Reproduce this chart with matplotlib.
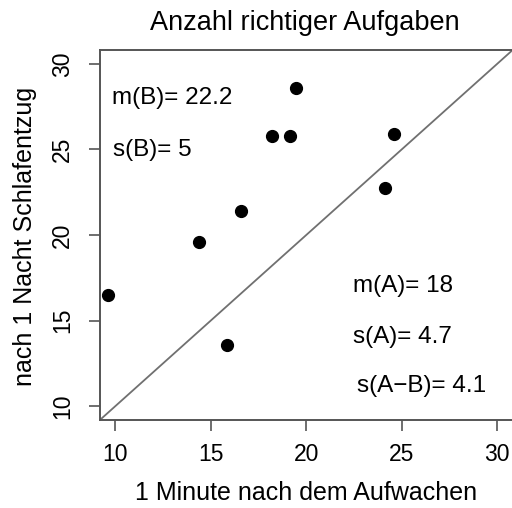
import matplotlib
matplotlib.use("Agg")
import matplotlib.pyplot as plt

plt.rcParams['font.family'] = ['Liberation Sans', 'DejaVu Sans']

# Werte
aufwachen = [9.62, 14.38, 15.83, 16.56, 18.22, 19.13, 19.46, 24.12, 24.61]
schlafentzug = [16.49, 19.61, 13.54, 21.42, 25.79, 25.79, 28.61, 22.75, 25.92]
ticks = [10, 15, 20, 25, 30]
stats_links = ["m(B)= 22.2", "s(B)= 5"]
stats_rechts = ["m(A)= 18", "s(A)= 4.7", "s(A\u2212B)= 4.1"]

W, H = 512, 508
fig = plt.figure(figsize=(W / 100, H / 100), dpi=100)
ax = fig.add_axes([100.2 / W, 88.3 / H, 412.1 / W, 369.4 / H])

ax.plot(aufwachen, schlafentzug, 'o', color='black', markersize=8.5, zorder=3)
ax.axline((10, 10), slope=1, color='#707070', linewidth=1.3)

ax.set_xlim(9.2, 30.8)
ax.set_ylim(9.2, 30.8)
ax.set_xticks(ticks)
ax.set_yticks(ticks)
ax.tick_params(direction='out', length=8, width=1.2, color='#555555',
               labelsize=16.5, pad=9)
ax.tick_params(axis='y', pad=11)
for lab in ax.get_yticklabels():
    lab.set_rotation(90)
    lab.set_va('center')
for side in ['left', 'top', 'bottom']:
    ax.spines[side].set_color('#555555')
    ax.spines[side].set_linewidth(1.4)
ax.spines['right'].set_visible(False)

# Kennwerte
fs = 17.5
ax.text(9.83, 28.0, stats_links[0], fontsize=fs, ha='left', va='center')
ax.text(9.88, 24.99, stats_links[1], fontsize=fs, ha='left', va='center')
ax.text(22.46, 17.0, stats_rechts[0], fontsize=fs, ha='left', va='center')
ax.text(22.43, 14.05, stats_rechts[1], fontsize=fs, ha='left', va='center')
ax.text(22.64, 11.17, stats_rechts[2], fontsize=fs, ha='left', va='center')

fig.text(305 / W, (H - 30) / H, "Anzahl richtiger Aufgaben", fontsize=19.5,
         ha='center', va='baseline')
fig.text(306 / W, 8 / H, "1 Minute nach dem Aufwachen", fontsize=18,
         ha='center', va='baseline')
fig.text(25 / W, (H - 236) / H, "nach 1 Nacht Schlafentzug", fontsize=18,
         ha='center', va='center', rotation=90)

fig.savefig("out.png", dpi=100)
